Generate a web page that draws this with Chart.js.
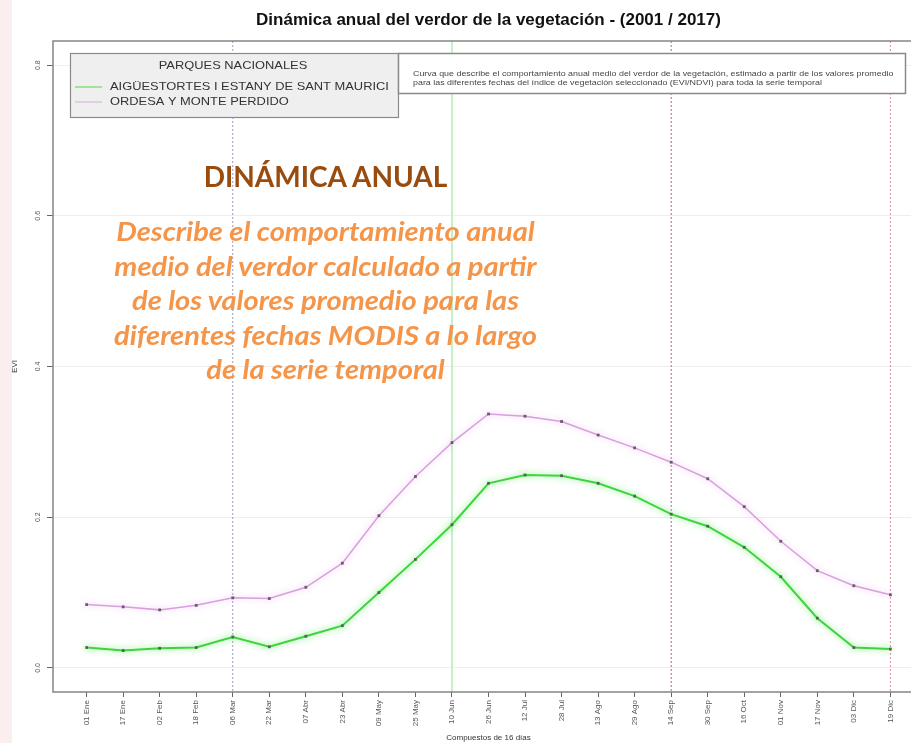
<!DOCTYPE html>
<html>
<head>
<meta charset="utf-8">
<script src="https://cdn.jsdelivr.net/npm/chart.js@4.4.1/dist/chart.umd.min.js"></script>
<style>
  html, body { margin: 0; padding: 0; overflow: hidden; }
  body { width: 911px; height: 743px; position: relative;
         background: linear-gradient(to right, #fbeeee 0, #fbeeee 12px, #ffffff 12px); }
  #grafico { position: absolute; left: 0; top: 0; }
  .nota { position: absolute; left: 0; width: 651px; text-align: center;
          font-family: Lato, "Noto Sans", sans-serif; font-weight: bold; }
  #cabecera { top: 159px; font-size: 28px; line-height: 34px; color: #994c0e; }
  #texto { top: 214px; font-size: 26px; line-height: 34.5px; font-style: italic; color: #f4954a;
           transform: scaleX(1.117); transform-origin: 325.5px 0; }
</style>
</head>
<body>
<canvas id="grafico" width="935" height="743"></canvas>
<div class="nota" id="cabecera">DINÁMICA ANUAL</div>
<div class="nota" id="texto">Describe el comportamiento anual<br>medio del verdor calculado a partir<br>de los valores promedio para las<br>diferentes fechas MODIS a lo largo<br>de la serie temporal</div>
<script>
// fechas de los compuestos MODIS de 16 dias
const fechas = ['01 Ene', '17 Ene', '02 Feb', '18 Feb', '06 Mar', '22 Mar', '07 Abr', '23 Abr',
  '09 May', '25 May', '10 Jun', '26 Jun', '12 Jul', '28 Jul', '13 Ago', '29 Ago',
  '14 Sep', '30 Sep', '16 Oct', '01 Nov', '17 Nov', '03 Dic', '19 Dic'];

const aiguestortes = [0.027, 0.023, 0.026, 0.027, 0.041, 0.028, 0.042, 0.056,
  0.100, 0.144, 0.190, 0.245, 0.256, 0.255, 0.245, 0.228,
  0.204, 0.188, 0.160, 0.121, 0.066, 0.027, 0.025];

const ordesa = [0.084, 0.081, 0.077, 0.083, 0.093, 0.092, 0.107, 0.139,
  0.202, 0.254, 0.299, 0.337, 0.334, 0.327, 0.309, 0.292,
  0.273, 0.251, 0.214, 0.168, 0.129, 0.109, 0.097];

const parques = ['AIGÜESTORTES I ESTANY DE SANT MAURICI', 'ORDESA Y MONTE PERDIDO'];
const yTicks = [0, 0.2, 0.4, 0.6, 0.8];
const marcas = ['06 Mar', '10 Jun', '14 Sep', '19 Dic'];

const descripcion = [
  'Curva que describe el comportamiento anual medio del verdor de la vegetación, estimado a partir de los valores promedio',
  'para las diferentes fechas del índice de vegetación seleccionado (EVI/NDVI) para toda la serie temporal'
];

// el grafico original esta algo estirado en horizontal
const estiro = 1.17;

function textoAncho(ctx, t, x, y) {
  ctx.save();
  ctx.translate(x, y);
  ctx.scale(estiro, 1);
  ctx.fillText(t, 0, 0);
  ctx.restore();
}

// lineas verticales de las estaciones
const fondoPlugin = {
  id: 'fondo',
  beforeDatasetsDraw(chart) {
    const ctx = chart.ctx;
    const a = chart.chartArea;
    const x = chart.scales.x;
    const estilos = [
      { color: '#9a9ac8', width: 1, dash: [2, 2] },
      { color: '#c6efc6', width: 2, dash: [] },
      { color: '#b06b80', width: 1, dash: [2, 2] },
      { color: '#d98a9c', width: 1, dash: [2, 2] }
    ];
    ctx.save();
    marcas.forEach((m, k) => {
      const px = x.getPixelForValue(fechas.indexOf(m));
      ctx.strokeStyle = estilos[k].color;
      ctx.lineWidth = estilos[k].width;
      ctx.setLineDash(estilos[k].dash);
      ctx.beginPath();
      ctx.moveTo(px, a.top);
      ctx.lineTo(px, a.bottom);
      ctx.stroke();
    });
    ctx.setLineDash([]);
    ctx.strokeStyle = '#858585';
    ctx.lineWidth = 1.5;
    ctx.strokeRect(a.left, a.top, a.right - a.left, a.bottom - a.top);
    ctx.restore();
  }
};

// halo suave alrededor de las curvas
const brilloPlugin = {
  id: 'brillo',
  beforeDatasetDraw(chart, args) {
    const ctx = chart.ctx;
    ctx.save();
    ctx.shadowColor = args.index === 0 ? 'rgba(110,235,110,0.9)' : 'rgba(235,180,240,0.8)';
    ctx.shadowBlur = 6;
  },
  afterDatasetDraw(chart) {
    chart.ctx.restore();
  }
};

// leyenda y cuadro de texto
const cajasPlugin = {
  id: 'cajas',
  afterDraw(chart) {
    const ctx = chart.ctx;
    ctx.save();
    ctx.fillStyle = '#efefef';
    ctx.fillRect(70.5, 53.5, 328, 64);
    ctx.strokeStyle = '#8a8a8a';
    ctx.lineWidth = 1.2;
    ctx.strokeRect(70.5, 53.5, 328, 64);

    ctx.fillStyle = '#333';
    ctx.font = '11px "Liberation Sans", Arial, sans-serif';
    ctx.textBaseline = 'middle';
    ctx.textAlign = 'center';
    textoAncho(ctx, 'PARQUES NACIONALES', 233, 66);
    ctx.textAlign = 'left';
    chart.data.datasets.forEach((ds, i) => {
      const y = 87 + i * 15;
      ctx.strokeStyle = ds.borderColor;
      ctx.globalAlpha = 0.6;
      ctx.lineWidth = 1.5;
      ctx.beginPath();
      ctx.moveTo(75, y);
      ctx.lineTo(102, y);
      ctx.stroke();
      ctx.globalAlpha = 1;
      textoAncho(ctx, ds.label, 110, y);
    });

    ctx.fillStyle = '#ffffff';
    ctx.fillRect(398.5, 53.5, 507, 40);
    ctx.strokeStyle = '#8a8a8a';
    ctx.strokeRect(398.5, 53.5, 507, 40);
    ctx.fillStyle = '#444';
    ctx.font = '7.6px "Liberation Sans", Arial, sans-serif';
    descripcion.forEach((t, i) => textoAncho(ctx, t, 413, 74 + i * 9));
    ctx.restore();
  }
};

const serie = vals => vals.map((v, i) => ({ x: i, y: v }));

new Chart(document.getElementById('grafico'), {
  type: 'line',
  data: {
    datasets: [
      {
        label: parques[0],
        data: serie(aiguestortes),
        borderColor: '#3ed43e',
        borderWidth: 2,
        pointStyle: 'rect',
        pointRadius: 2,
        pointBackgroundColor: 'rgba(80,80,80,0.85)',
        pointBorderWidth: 0,
        tension: 0
      },
      {
        label: parques[1],
        data: serie(ordesa),
        borderColor: '#d7a0dc',
        borderWidth: 1.5,
        pointStyle: 'rect',
        pointRadius: 2,
        pointBackgroundColor: 'rgba(80,80,80,0.85)',
        pointBorderWidth: 0,
        tension: 0
      }
    ]
  },
  options: {
    responsive: false,
    animation: false,
    layout: { padding: { left: 0, right: 11, top: 0, bottom: 0 } },
    plugins: {
      legend: { display: false },
      tooltip: { enabled: false },
      title: {
        display: true,
        text: 'Dinámica anual del verdor de la vegetación - (2001 / 2017)',
        fullSize: false,
        color: '#111',
        font: { family: '"Liberation Sans", Arial, sans-serif', size: 17, weight: 'bold' },
        padding: { top: 10, bottom: 10.6 }
      }
    },
    scales: {
      x: {
        type: 'linear',
        min: -0.92,
        max: 22.92,
        afterBuildTicks: s => { s.ticks = fechas.map((f, i) => ({ value: i })); },
        afterFit: s => { s.height = 51; },
        ticks: {
          callback: v => fechas[v],
          autoSkip: false,
          minRotation: 90,
          maxRotation: 90,
          padding: 3,
          color: '#555',
          font: { family: '"Liberation Sans", Arial, sans-serif', size: 8 }
        },
        grid: { drawOnChartArea: false, tickLength: 5, tickColor: '#666' },
        border: { display: false },
        title: {
          display: true,
          text: 'Compuestos de 16 días',
          color: '#333',
          font: { family: '"Liberation Sans", Arial, sans-serif', size: 8 },
          padding: { top: 0, bottom: 0 }
        }
      },
      y: {
        min: -0.032,
        max: 0.832,
        afterBuildTicks: s => { s.ticks = yTicks.map(v => ({ value: v })); },
        afterFit: s => { s.width = 53; },
        ticks: {
          callback: v => v.toFixed(1),
          minRotation: 90,
          maxRotation: 90,
          crossAlign: 'center',
          padding: 4,
          color: '#555',
          font: { family: '"Liberation Sans", Arial, sans-serif', size: 7 }
        },
        grid: { color: '#eeeeee', tickLength: 6, tickColor: '#666' },
        border: { display: false },
        title: {
          display: true,
          text: 'EVI',
          color: '#333',
          font: { family: '"Liberation Sans", Arial, sans-serif', size: 8 },
          padding: { top: 10, bottom: 0 }
        }
      }
    }
  },
  plugins: [fondoPlugin, brilloPlugin, cajasPlugin]
});
</script>
</body>
</html>
